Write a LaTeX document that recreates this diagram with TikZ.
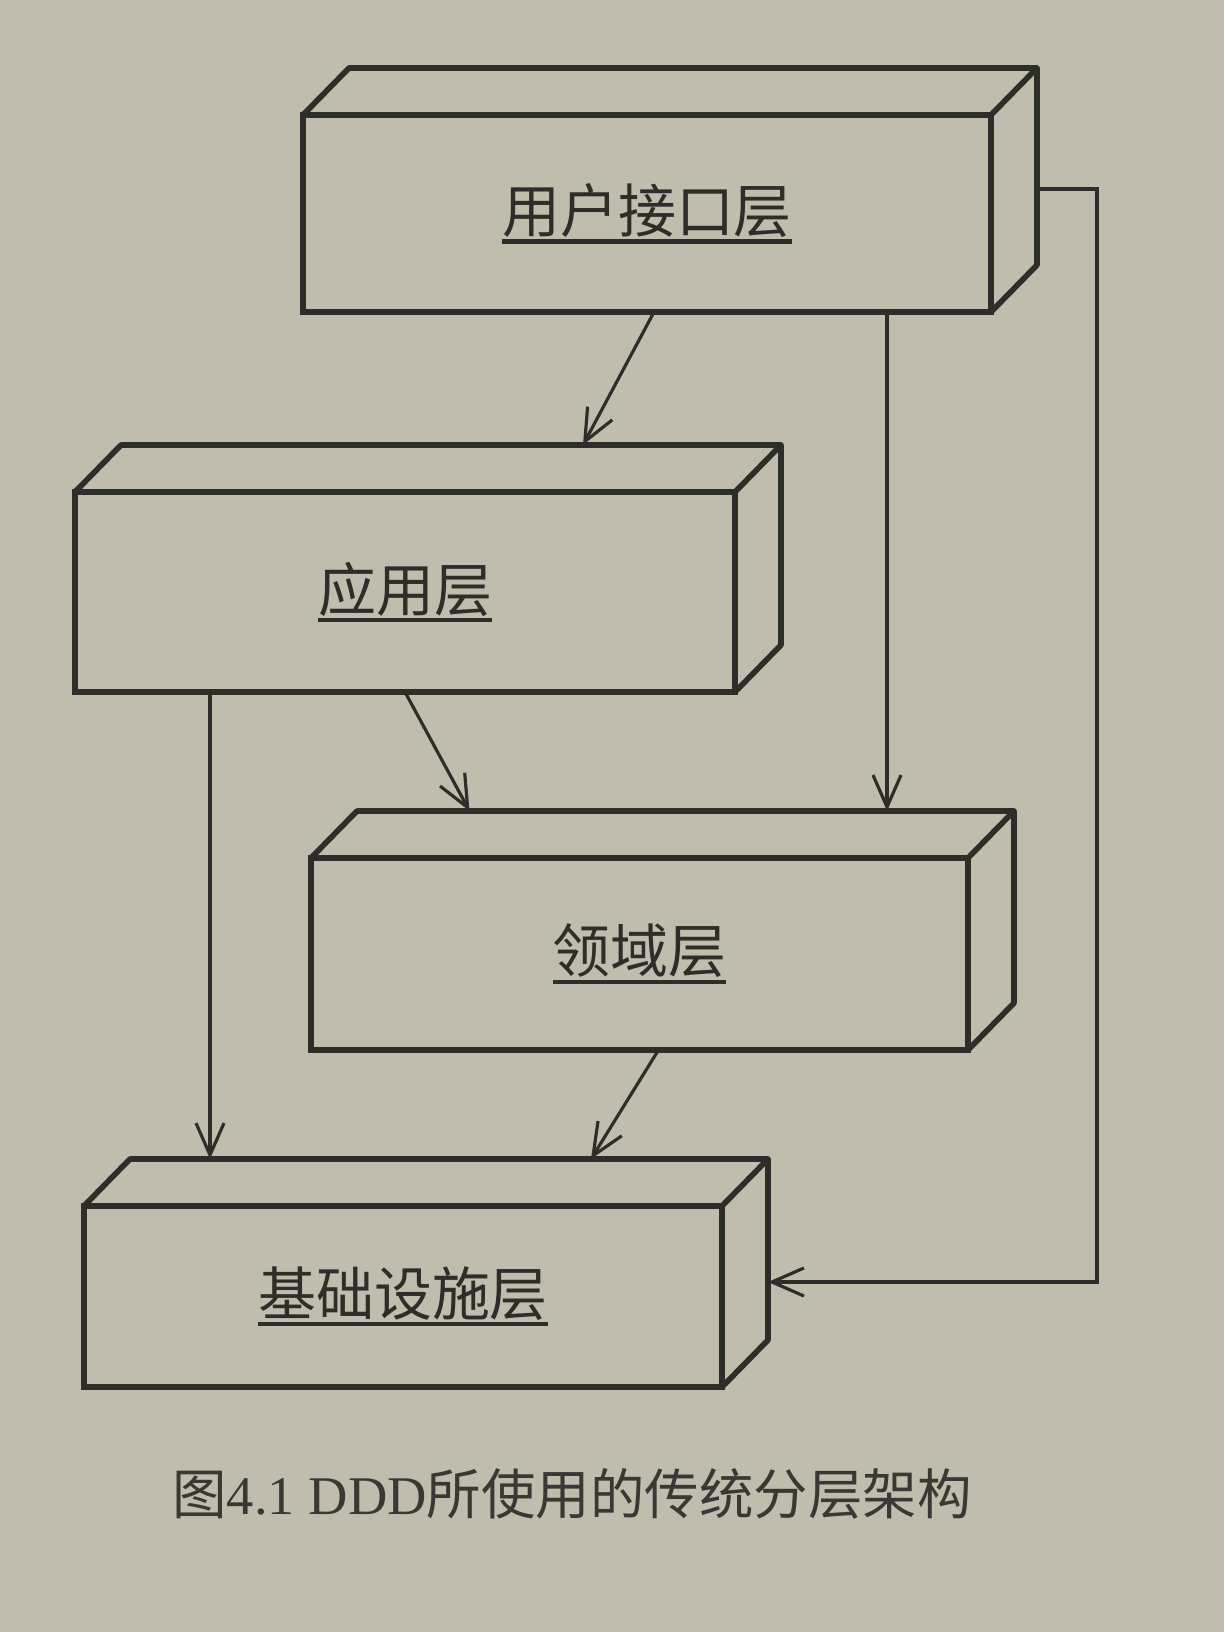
\documentclass[tikz,border=0pt]{standalone}
\usepackage{fontspec}
\setmainfont{Liberation Serif}
\newfontfamily\cjk{Noto Sans CJK SC}
\usetikzlibrary{arrows.meta}
\definecolor{paper}{RGB}{192,188,174}
\definecolor{ink}{RGB}{45,45,42}
\definecolor{capink}{RGB}{58,56,52}
\newcommand\lyr[1]{\setbox0=\hbox{#1}\vtop{\box0 \kern0.5pt \hrule height 1.2pt}}

\begin{document}
\begin{tikzpicture}[thick,
    layer/.style={rectangle,draw=ink,line width=1.6pt,inner sep=0pt,outer sep=0pt,text=ink,font=\cjk\fontsize{16.5pt}{18pt}\selectfont},
    dep/.style={draw=ink,line width=0.9pt,-{Straight Barb[length=3.2mm,width=2.8mm]}}]
    \fill [paper] (0,0) rectangle (12.24,-16.32);
    \useasboundingbox (0,0) rectangle (12.24,-16.32);
    % the four layers (front faces)
    \node [layer,minimum width=6.88cm,minimum height=1.97cm] (ui) at (6.47,-2.135) {\lyr{用户接口层}};
    \node [layer,minimum width=6.60cm,minimum height=2.00cm] (app) at (4.05,-5.92) {\lyr{应用层}};
    \node [layer,minimum width=6.57cm,minimum height=1.92cm] (dom) at (6.395,-9.54) {\lyr{领域层}};
    \node [layer,minimum width=6.38cm,minimum height=1.81cm] (infra) at (4.03,-12.965) {\lyr{基础设施层}};
    % top and side faces
    \foreach \n in {ui,app,dom,infra} {
        \draw [ink,line width=1.6pt,line join=round] (\n.north west) -- ++(0.46,0.47) -| ([shift={(0.46,0.47)}]\n.south east) -- (\n.south east);
        \draw [ink,line width=1.6pt] (\n.north east) -- ++(0.46,0.47);
        \coordinate (\n-top) at ([yshift=0.47cm]\n.north);
    }
    % dependencies
    \draw [dep] ([xshift=0.07cm]ui.south) -- ([xshift=1.78cm]app-top);
    \draw [dep] ([xshift=2.4cm]ui.south) -- ([xshift=2.4cm]ui.south |- dom-top);
    \draw [dep] (app.south) -- ([xshift=-1.70cm]dom-top);
    \draw [dep] ([xshift=-1.95cm]app.south) -- ([xshift=-1.95cm]app.south |- infra-top);
    \draw [dep] ([xshift=0.19cm]dom.south) -- ([xshift=1.88cm]infra-top);
    \draw [dep] ([shift={(0.46,0.245)}]ui.east) -- ++(0.6,0) |- ([shift={(0.46,0.145)}]infra.east);
    \node [text=capink,font=\fontsize{15.5pt}{18pt}\selectfont] (cap) at (5.72,-14.94) {{\cjk 图}4.1 DDD{\cjk 所使用的传统分层架构}};
\end{tikzpicture}
\end{document}
